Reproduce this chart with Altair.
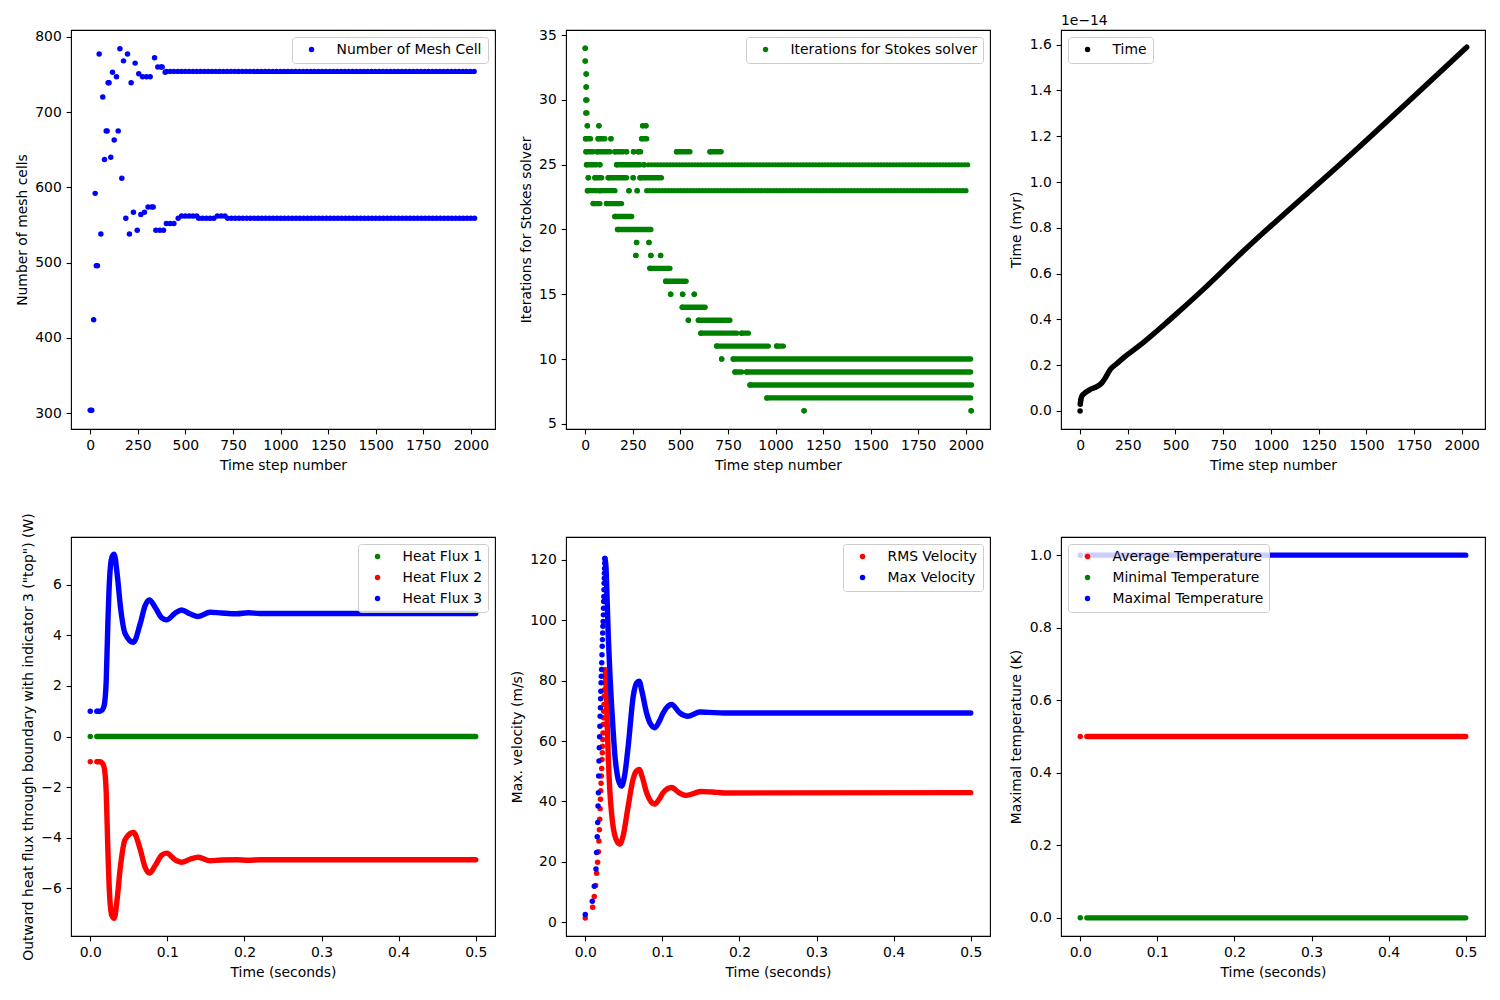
import altair as alt
import pandas as pd

FONT = "DejaVu Sans"
FS = 13.9
W, H = 424, 399
DOT = 30
BAND = 5.4
BLUE, GREEN, RED, BLACK = "#0000ff", "#008000", "#ff0000", "#000000"

# ---------------- tick labels ----------------
step_ticks = [0, 250, 500, 750, 1000, 1250, 1500, 1750, 2000]
sec_ticks = [0.0, 0.1, 0.2, 0.3, 0.4, 0.5]
mesh_ticks = [300, 400, 500, 600, 700, 800]
iter_ticks = [5, 10, 15, 20, 25, 30, 35]
myr_ticks = [0.0, 0.2, 0.4, 0.6, 0.8, 1.0, 1.2, 1.4, 1.6]
flux_ticks = [-6, -4, -2, 0, 2, 4, 6]
vel_ticks = [0, 20, 40, 60, 80, 100, 120]
temp_ticks = [0.0, 0.2, 0.4, 0.6, 0.8, 1.0]

# ---------------- panel 1: number of mesh cells ----------------
mesh_steps = [0, 8, 18, 26, 32, 38, 47, 56, 66, 75, 84, 89, 94, 99, 108, 117, 126, 138,
              147, 156, 166, 175, 187, 196, 206, 215, 227, 236, 247, 255, 266, 275, 285,
              296, 304, 315, 323, 331, 338, 345, 355, 366, 372, 378, 385, 394]
mesh_cells = [304, 304, 424, 592, 496, 496, 777, 538, 720, 637, 675, 675, 739, 739, 640,
              753, 663, 747, 675, 784, 612, 768, 559, 777, 538, 739, 567, 765, 543, 751,
              564, 747, 567, 747, 574, 747, 574, 574, 772, 543, 760, 543, 760, 760, 543, 753]
mesh_plateau_value = [754, 552, 559, 562, 559, 562, 559]
mesh_plateau_start = [400, 400, 462, 480, 570, 668, 722]
mesh_plateau_end = [2018, 455, 472, 560, 660, 712, 2028]

# ---------------- panel 2: Stokes iterations ----------------
iter_level = [34, 33, 32, 31, 30, 29,
              28, 28, 28, 28,
              27, 27, 27, 27,
              26, 26, 26, 26, 26, 26, 26, 26,
              25, 25, 25, 25,
              24, 24, 24, 24, 24,
              23, 23, 23, 23,
              22, 22, 21, 20, 19, 19, 18, 18, 18, 17, 16,
              15, 15, 15, 14, 13, 13, 12, 12, 11, 11,
              10, 10, 9, 9, 8, 7, 6, 6]
iter_start = [0, 0, 5, 5, 4, 4,
              11, 72, 302, 319,
              2, 68, 135, 297,
              4, 62, 156, 217, 254, 278, 480, 656,
              7, 77, 165, 309,
              16, 51, 121, 252, 288,
              12, 77, 230, 273,
              42, 112, 156, 170, 270, 335, 266, 345, 396, 340, 423,
              449, 512, 573, 510, 542, 595, 608, 822, 691, 1006,
              717, 778, 787, 848, 866, 955, 1150, 2028]
iter_end = [0, 0, 5, 5, 9, 9,
            11, 72, 302, 319,
            28, 103, 135, 323,
            42, 130, 200, 217, 254, 291, 550, 714,
            60, 77, 288, 309,
            16, 86, 217, 252, 400,
            60, 156, 230, 273,
            77, 191, 244, 345, 270, 335, 266, 345, 396, 445, 530,
            449, 512, 573, 630, 542, 760, 796, 857, 962, 1041,
            717, 2025, 822, 2025, 2030, 2025, 1150, 2028]
iter_dotted_level = [25, 23]
iter_dotted_start = [332, 323]
iter_dotted_end = [2025, 2015]

# ---------------- panel 3: model time (units of 1e-14 myr) ----------------
time_dot_steps = [0, 1, 2, 3]
time_dot_myr = [0.0, 0.029, 0.037, 0.044]
time_band_steps = [4, 9, 25, 52, 85, 114, 135, 157, 190, 227, 297, 472, 646, 838, 1432, 2026]
time_band_myr = [0.05, 0.064, 0.078, 0.093, 0.105, 0.1225, 0.148, 0.18, 0.205, 0.232,
                 0.276, 0.40, 0.531, 0.684, 1.13, 1.589]

# ---------------- panel 4: heat flux ----------------
flux_dot_t = [0.0, 0.0085]
hf1_dots = [0.0, 0.0]
hf2_dots = [-1.0, -1.0]
hf3_dots = [1.0, 1.0]
hf1_band_t = [0.0095, 0.5]
hf1_band = [0.0, 0.0]
flux_band_t = [0.0095, 0.0125, 0.0155, 0.0181, 0.0207, 0.0228, 0.0249, 0.028, 0.031,
               0.0349, 0.0392, 0.0453, 0.056, 0.0647, 0.0711, 0.0767, 0.084, 0.0927,
               0.0991, 0.1099, 0.1185, 0.1293, 0.14, 0.1552, 0.17, 0.19, 0.205, 0.22, 0.5]
hf3_band = [1.0, 1.0, 1.05, 1.24, 2.22, 4.46, 6.17, 7.09, 7.22, 6.43, 5.12, 4.07, 3.73,
            4.46, 5.18, 5.41, 5.12, 4.70, 4.62, 4.88, 5.01, 4.86, 4.75, 4.92, 4.89, 4.86,
            4.90, 4.87, 4.87]
hf2_band = [-1.0, -1.0, -1.05, -1.24, -2.22, -4.46, -6.17, -7.09, -7.2, -6.43, -5.12,
            -4.07, -3.8, -4.46, -5.18, -5.41, -5.12, -4.70, -4.62, -4.88, -4.98, -4.86,
            -4.78, -4.92, -4.89, -4.88, -4.90, -4.88, -4.88]

# ---------------- panel 5: velocities ----------------
rms_rise_t = [0.0, 0.0096, 0.0117, 0.0135, 0.0147, 0.016, 0.017, 0.0177, 0.0183, 0.0188,
              0.0193, 0.0197, 0.0201, 0.0205, 0.0209, 0.0213, 0.0217, 0.0221, 0.0224,
              0.0227, 0.023, 0.0233, 0.0236, 0.0239, 0.0242, 0.0245, 0.0248, 0.025,
              0.0253, 0.0255]
rms_rise_v = [1.4, 4.95, 8.5, 12.1, 16.2, 19.8, 23.3, 26.9, 30.6, 34.1, 37.6, 40.7, 43.5,
              46.0, 48.4, 50.9, 53.9, 56.1, 58.3, 60.5, 62.7, 65.5, 67.7, 69.9, 72.1, 74.8,
              77.0, 79.3, 81.4, 83.6]
max_rise_t = [0.0, 0.0091, 0.0117, 0.0139, 0.0147, 0.0155, 0.0161, 0.0166, 0.017, 0.0174,
              0.0178, 0.0182, 0.0186, 0.019, 0.0193, 0.0196, 0.0199, 0.0202, 0.0205,
              0.0208, 0.0211, 0.0214, 0.0217, 0.022, 0.0223, 0.0226, 0.0229, 0.0232,
              0.0235, 0.0237, 0.0239, 0.0241, 0.0243, 0.0245, 0.0247, 0.0249, 0.0251,
              0.0253, 0.0255]
max_rise_v = [2.5, 6.9, 11.9, 17.6, 23.1, 28.3, 33.0, 38.5, 42.9, 48.4, 53.4, 57.8, 61.4,
              64.9, 68.2, 71.0, 74.0, 76.5, 79.3, 81.5, 83.7, 85.9, 88.6, 91.4, 93.6, 95.8,
              98.0, 99.6, 101.8, 104.0, 106.2, 107.9, 110.1, 112.3, 113.9, 115.6, 117.2,
              118.9, 120.5]
rms_band_t = [0.0255, 0.0268, 0.0282, 0.0298, 0.032, 0.034, 0.0362, 0.0385, 0.0415,
              0.0449, 0.049, 0.0557, 0.062, 0.066, 0.0699, 0.074, 0.0795, 0.085, 0.0903,
              0.096, 0.101, 0.112, 0.121, 0.131, 0.15, 0.165, 0.18, 0.5]
rms_band_v = [83.6, 80.0, 68.0, 55.0, 43.0, 36.3, 31.5, 28.6, 26.6, 25.9, 28.5, 38.5, 47.3,
              50.0, 50.6, 48.0, 42.9, 40.0, 39.1, 40.8, 42.9, 44.6, 43.0, 42.0, 43.3, 43.1,
              42.8, 42.9]
max_band_t = [0.0255, 0.0268, 0.0282, 0.0298, 0.032, 0.0342, 0.0365, 0.0385, 0.0405,
              0.0427, 0.0471, 0.051, 0.0557, 0.0622, 0.0665, 0.0699, 0.0735, 0.0795, 0.085,
              0.0903, 0.096, 0.101, 0.112, 0.1227, 0.1334, 0.1486, 0.16, 0.18, 0.5]
max_band_v = [120.5, 118.0, 108.0, 95.0, 82.0, 71.5, 62.0, 55.0, 50.5, 47.3, 45.1, 48.5,
              58.3, 74.8, 79.2, 79.8, 76.5, 69.3, 65.5, 64.4, 66.5, 69.3, 72.1, 69.3, 68.2,
              69.6, 69.5, 69.3, 69.3]

# ---------------- panel 6: temperatures ----------------
temp_dot_t = [0.0]
avg_temp_dots = [0.5]
min_temp_dots = [0.0]
max_temp_dots = [1.0]
temp_band_t = [0.0085, 0.5]
avg_temp_band = [0.5, 0.5]
min_temp_band = [0.0, 0.0]
max_temp_band = [1.0, 1.0]


# ---------------- helpers ----------------
def scale(domain):
    return alt.Scale(domain=domain, nice=False, zero=False)


def xenc(field, title, domain, ticks, fmt):
    return alt.X(f"{field}:Q", title=title, scale=scale(domain),
                 axis=alt.Axis(values=ticks, format=fmt))


def yenc(field, title, domain, ticks, fmt):
    return alt.Y(f"{field}:Q", title=title, scale=scale(domain),
                 axis=alt.Axis(values=ticks, format=fmt))


def legend(orient):
    return alt.Legend(title=None, orient=orient, offset=7, padding=5.6,
                      fillColor="rgba(255,255,255,0.8)", strokeColor="#cccccc",
                      cornerRadius=3, labelFont=FONT, labelFontSize=FS, labelColor="black",
                      labelLimit=1000, symbolType="circle", symbolSize=DOT,
                      symbolStrokeWidth=0, symbolOpacity=1, rowPadding=6,
                      labelOffset=18, symbolOffset=7)


def color(names, colors, orient):
    return alt.Color("series:N", scale=alt.Scale(domain=names, range=colors),
                     legend=legend(orient), sort=names)


STEP_DOM = [-101, 2127]
SEC_DOM = [-0.025, 0.525]

# ---------------- panel 1 ----------------
p1_names = ["Number of Mesh Cell"]
p1x = lambda f: xenc(f, "Time step number", STEP_DOM, step_ticks, "d")
p1y = lambda f: yenc(f, "Number of mesh cells", [279, 809], mesh_ticks, "d")
p1_dots = pd.DataFrame({"step": mesh_steps, "cells": mesh_cells, "series": p1_names[0]})
p1_plat = pd.DataFrame({"step": mesh_plateau_start, "step_end": mesh_plateau_end,
                        "cells": mesh_plateau_value})
p1 = alt.layer(
    alt.Chart(p1_plat).mark_rule(color=BLUE, strokeWidth=5.4, strokeCap="round",
                                 strokeDash=[0, 3.8]).encode(
        x=p1x("step"), x2=alt.X2("step_end:Q"), y=p1y("cells")),
    alt.Chart(p1_dots).mark_circle(size=DOT, opacity=1).encode(
        x=p1x("step"), y=p1y("cells"), color=color(p1_names, [BLUE], "top-right")),
).properties(width=W, height=H)

# ---------------- panel 2 ----------------
p2_names = ["Iterations for Stokes solver"]
p2x = lambda f: xenc(f, "Time step number", STEP_DOM, step_ticks, "d")
p2y = lambda f: yenc(f, "Iterations for Stokes solver", [4.6, 35.4], iter_ticks, "d")
p2_solid = pd.DataFrame({"step": iter_start, "step_end": iter_end, "iterations": iter_level,
                         "series": p2_names[0]})
p2_dotted = pd.DataFrame({"step": iter_dotted_start, "step_end": iter_dotted_end,
                          "iterations": iter_dotted_level})
p2 = alt.layer(
    alt.Chart(p2_dotted).mark_rule(color=GREEN, strokeWidth=5.2, strokeCap="round",
                                   strokeDash=[0, 3.1]).encode(
        x=p2x("step"), x2=alt.X2("step_end:Q"), y=p2y("iterations")),
    alt.Chart(p2_solid).mark_rule(color=GREEN, strokeWidth=BAND, strokeCap="round").encode(
        x=p2x("step"), x2=alt.X2("step_end:Q"), y=p2y("iterations")),
    alt.Chart(p2_solid).mark_circle(size=DOT, opacity=1).encode(
        x=p2x("step"), y=p2y("iterations"), color=color(p2_names, [GREEN], "top-right")),
).properties(width=W, height=H)

# ---------------- panel 3 ----------------
p3_names = ["Time"]
p3x = lambda f: xenc(f, "Time step number", [-100, 2122], step_ticks, "d")
p3y = lambda f: yenc(f, "Time (myr)", [-0.079, 1.664], myr_ticks, ".1f")
p3_band = pd.DataFrame({"step": time_band_steps, "myr": time_band_myr})
p3_dots = pd.DataFrame({"step": time_dot_steps, "myr": time_dot_myr, "series": p3_names[0]})
p3 = alt.layer(
    alt.Chart(p3_band).mark_line(color=BLACK, strokeWidth=BAND, strokeCap="round",
                                 strokeJoin="round", interpolate="monotone").encode(
        x=p3x("step"), y=p3y("myr")),
    alt.Chart(p3_dots).mark_circle(size=DOT, opacity=1).encode(
        x=p3x("step"), y=p3y("myr"), color=color(p3_names, [BLACK], "top-left")),
).properties(width=W, height=H,
             title=alt.TitleParams("1e\u221214", anchor="start", frame="group", font=FONT,
                                   fontSize=FS, fontWeight="normal", color="black",
                                   offset=2))

# ---------------- panel 4 ----------------
p4_names = ["Heat Flux 1", "Heat Flux 2", "Heat Flux 3"]
p4x = lambda f: xenc(f, "Time (seconds)", SEC_DOM, sec_ticks, ".1f")
p4y = lambda f: yenc(f, 'Outward heat flux through boundary with indicator 3 ("top") (W)',
                     [-7.9, 7.9], flux_ticks, "d")


def band(t, v, col, xf, yf):
    df = pd.DataFrame({"t": t, "v": v})
    return alt.Chart(df).mark_line(color=col, strokeWidth=BAND, strokeCap="round",
                                   strokeJoin="round", interpolate="monotone").encode(
        x=xf("t"), y=yf("v"))


p4_dots = pd.concat([
    pd.DataFrame({"t": flux_dot_t, "v": hf1_dots, "series": p4_names[0]}),
    pd.DataFrame({"t": flux_dot_t, "v": hf2_dots, "series": p4_names[1]}),
    pd.DataFrame({"t": flux_dot_t, "v": hf3_dots, "series": p4_names[2]}),
])
p4 = alt.layer(
    band(hf1_band_t, hf1_band, GREEN, p4x, p4y),
    band(flux_band_t, hf2_band, RED, p4x, p4y),
    band(flux_band_t, hf3_band, BLUE, p4x, p4y),
    alt.Chart(p4_dots).mark_circle(size=DOT, opacity=1).encode(
        x=p4x("t"), y=p4y("v"), color=color(p4_names, [GREEN, RED, BLUE], "top-right")),
).properties(width=W, height=H)

# ---------------- panel 5 ----------------
p5_names = ["RMS Velocity", "Max Velocity"]
p5x = lambda f: xenc(f, "Time (seconds)", SEC_DOM, sec_ticks, ".1f")
p5y = lambda f: yenc(f, "Max. velocity (m/s)", [-4.6, 127.6], vel_ticks, "d")
p5_dots = pd.concat([
    pd.DataFrame({"t": rms_rise_t, "v": rms_rise_v, "series": p5_names[0]}),
    pd.DataFrame({"t": max_rise_t, "v": max_rise_v, "series": p5_names[1]}),
])
p5 = alt.layer(
    band(rms_band_t, rms_band_v, RED, p5x, p5y),
    band(max_band_t, max_band_v, BLUE, p5x, p5y),
    alt.Chart(p5_dots).mark_circle(size=DOT, opacity=1).encode(
        x=p5x("t"), y=p5y("v"), color=color(p5_names, [RED, BLUE], "top-right")),
).properties(width=W, height=H)

# ---------------- panel 6 ----------------
p6_names = ["Average Temperature", "Minimal Temperature", "Maximal Temperature"]
p6x = lambda f: xenc(f, "Time (seconds)", SEC_DOM, sec_ticks, ".1f")
p6y = lambda f: yenc(f, "Maximal temperature (K)", [-0.05, 1.05], temp_ticks, ".1f")
p6_dots = pd.concat([
    pd.DataFrame({"t": temp_dot_t, "v": avg_temp_dots, "series": p6_names[0]}),
    pd.DataFrame({"t": temp_dot_t, "v": min_temp_dots, "series": p6_names[1]}),
    pd.DataFrame({"t": temp_dot_t, "v": max_temp_dots, "series": p6_names[2]}),
])
p6 = alt.layer(
    band(temp_band_t, avg_temp_band, RED, p6x, p6y),
    band(temp_band_t, min_temp_band, GREEN, p6x, p6y),
    band(temp_band_t, max_temp_band, BLUE, p6x, p6y),
    alt.Chart(p6_dots).mark_circle(size=DOT, opacity=1).encode(
        x=p6x("t"), y=p6y("v"), color=color(p6_names, [RED, GREEN, BLUE], "top-left")),
).properties(width=W, height=H)

chart = alt.concat(
    p1, p2, p3, p4, p5, p6, columns=3, spacing={"row": 108, "column": 71}, bounds="flush"
).resolve_scale(
    color="independent", x="independent", y="independent"
).resolve_legend(
    color="independent"
).properties(
    padding={"left": 6, "top": 5, "right": 5, "bottom": 5}
).configure_axis(
    labelFont=FONT, labelFontSize=FS, labelColor="black", titleFont=FONT, titleFontSize=FS,
    titleColor="black", titleFontWeight="normal", tickColor="black", tickSize=4.86,
    tickWidth=1.1, labelPadding=4.86, titlePadding=5.6, domain=False, grid=False,
    labelFlush=False, labelOverlap=False, titleLimit=1000, labelLimit=1000
).configure_view(
    stroke="black", strokeWidth=1.1
).configure_title(
    font=FONT, fontSize=FS, fontWeight="normal", color="black"
)

chart.save("out.html", embed_options={"renderer": "svg", "actions": False})
